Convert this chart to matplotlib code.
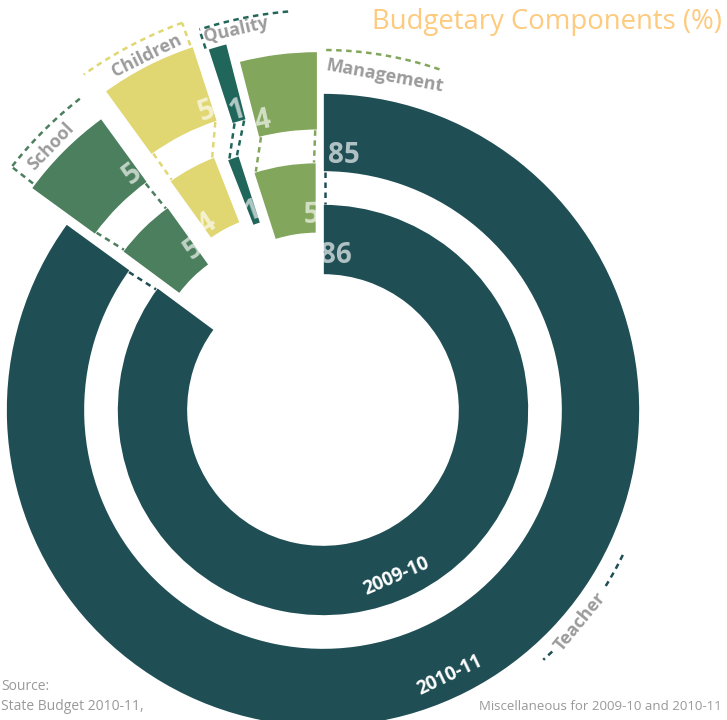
import numpy as np
import matplotlib.pyplot as plt

categories = ["Teacher", "School", "Children", "Quality", "Management"]
years = ["2009-10", "2010-11"]
share_2009_10 = [86, 5, 4, 1, 5]
share_2010_11 = [85, 5, 5, 1, 4]

colors = ["#1f4f55", "#4b7f5d", "#e0d773", "#21665a", "#82a65b"]
explode = [0, 50, 70, 62, 42]
grey = "#9b9b9b"

plt.rcParams['font.family'] = ['Open Sans', 'DejaVu Sans']


def polar(c, r, a):
    # a in degrees, counter-clockwise from 12 o'clock
    t = np.radians(a)
    return c[0] - r * np.sin(t), c[1] + r * np.cos(t)


fig = plt.figure(figsize=(7.27, 7.2), dpi=100)
ax = fig.add_axes([0, 0, 1, 1])

outer, _ = ax.pie(share_2010_11, radius=317, startangle=90, counterclock=False,
                  explode=explode, colors=colors,
                  wedgeprops=dict(width=79, edgecolor='white', linewidth=1.2))
inner, _ = ax.pie(share_2009_10, radius=206, startangle=90, counterclock=False,
                  explode=explode, colors=colors,
                  wedgeprops=dict(width=71, edgecolor='white', linewidth=1.2))

# value labels: (fraction across the wedge, distance above inner edge)
spots_out = [(0.985, 17), (0.1, 16), (0.1, 13), (0.47, 12), (0.87, 15)]
spots_in = [(0.985, 20), (0.08, 22), (0.85, 14), (0.55, 14), (0.1, 18)]

for ring, vals, spots in [(outer, share_2010_11, spots_out), (inner, share_2009_10, spots_in)]:
    for i, w in enumerate(ring):
        a1, a2 = w.theta1 - 90, w.theta2 - 90
        fr, dr = spots[i]
        a = a1 + fr * (a2 - a1)
        x, y = polar(w.center, w.r - w.width + dr, a)
        rot = 0 if i == 0 else a
        ax.text(x, y, str(vals[i]), ha='center', va='center', rotation=rot,
                rotation_mode='anchor', fontsize=20, fontweight='bold',
                color='white', alpha=0.65)

# dashed connectors between the two rings
for i in range(len(categories)):
    wo, wi = outer[i], inner[i]
    for side in (0, 1):
        ao = (wo.theta1 if side == 0 else wo.theta2) - 90
        ai = (wi.theta1 if side == 0 else wi.theta2) - 90
        s = 1 if side == 0 else -1
        ro = wo.r - wo.width
        ri = wi.r
        p1 = polar(wo.center, ro, ao + s * np.degrees(2.5 / ro))
        p2 = polar(wi.center, ri, ai + s * np.degrees(2.5 / ri))
        ax.plot([p1[0], p2[0]], [p1[1], p2[1]], color=colors[i], lw=1.8,
                linestyle=(0, (2.2, 1.8)))

# category names with dashed arcs
arc_r = [333, 395, 412, 400, 360]
arc_span = [[(-115.8, -121.9), (-136.5, -138.6)], [(38, 52)], [(20, 35.5)], [(5, 18)], [(-0.5, -19)]]
ticks = [None, (52, 368), (20, 388), (18, 380), None]
name_pos = [(333, -129.5), (379, 46), (396, 26.4), (390, 12.9), (340, -10.5)]

for i, name in enumerate(categories):
    for a_from, a_to in arc_span[i]:
        aa = np.linspace(a_from, a_to, 60)
        xs, ys = polar((0, 0), arc_r[i], aa)
        ax.plot(xs, ys, color=colors[i], lw=1.8, linestyle=(0, (2.2, 1.8)))
    if ticks[i] is not None:
        a, r0 = ticks[i]
        p1 = polar((0, 0), r0, a)
        p2 = polar((0, 0), arc_r[i], a)
        ax.plot([p1[0], p2[0]], [p1[1], p2[1]], color=colors[i], lw=1.8,
                linestyle=(0, (2.2, 1.8)))
    r, a = name_pos[i]
    x, y = polar((0, 0), r, a)
    rot = a if abs(a) <= 90 else a + 180
    ax.text(x, y, name, ha='center', va='center', rotation=rot,
            rotation_mode='anchor', fontsize=13, fontweight='bold', color=grey)

# year labels
year_pos = [(182, -156.4), (294, -154.4)]
for yr, (r, a) in zip(years, year_pos):
    x, y = polar((0, 0), r, a)
    ax.text(x, y, yr, ha='center', va='center', rotation=a + 180,
            rotation_mode='anchor', fontsize=13.5, fontweight='bold', color='white')

ax.set_xlim(-323, 404)
ax.set_ylim(-310, 410)
ax.set_aspect('equal')
ax.axis('off')

fig.text(722 / 727, 1 - 22 / 720, "Budgetary Components (%)", ha='right', va='center',
         fontsize=19.8, color='#fdca7e')
fig.text(1 / 727, 1 - 687 / 720, "Source:", ha='left', va='center', fontsize=10, color='#999999')
fig.text(1 / 727, 1 - 706 / 720, "State Budget 2010-11,", ha='left', va='center', fontsize=10, color='#999999')
fig.text(722 / 727, 1 - 706 / 720, "Miscellaneous for 2009-10 and 2010-11", ha='right', va='center',
         fontsize=9.5, color='#999999')

fig.savefig("out.png", dpi=100)
